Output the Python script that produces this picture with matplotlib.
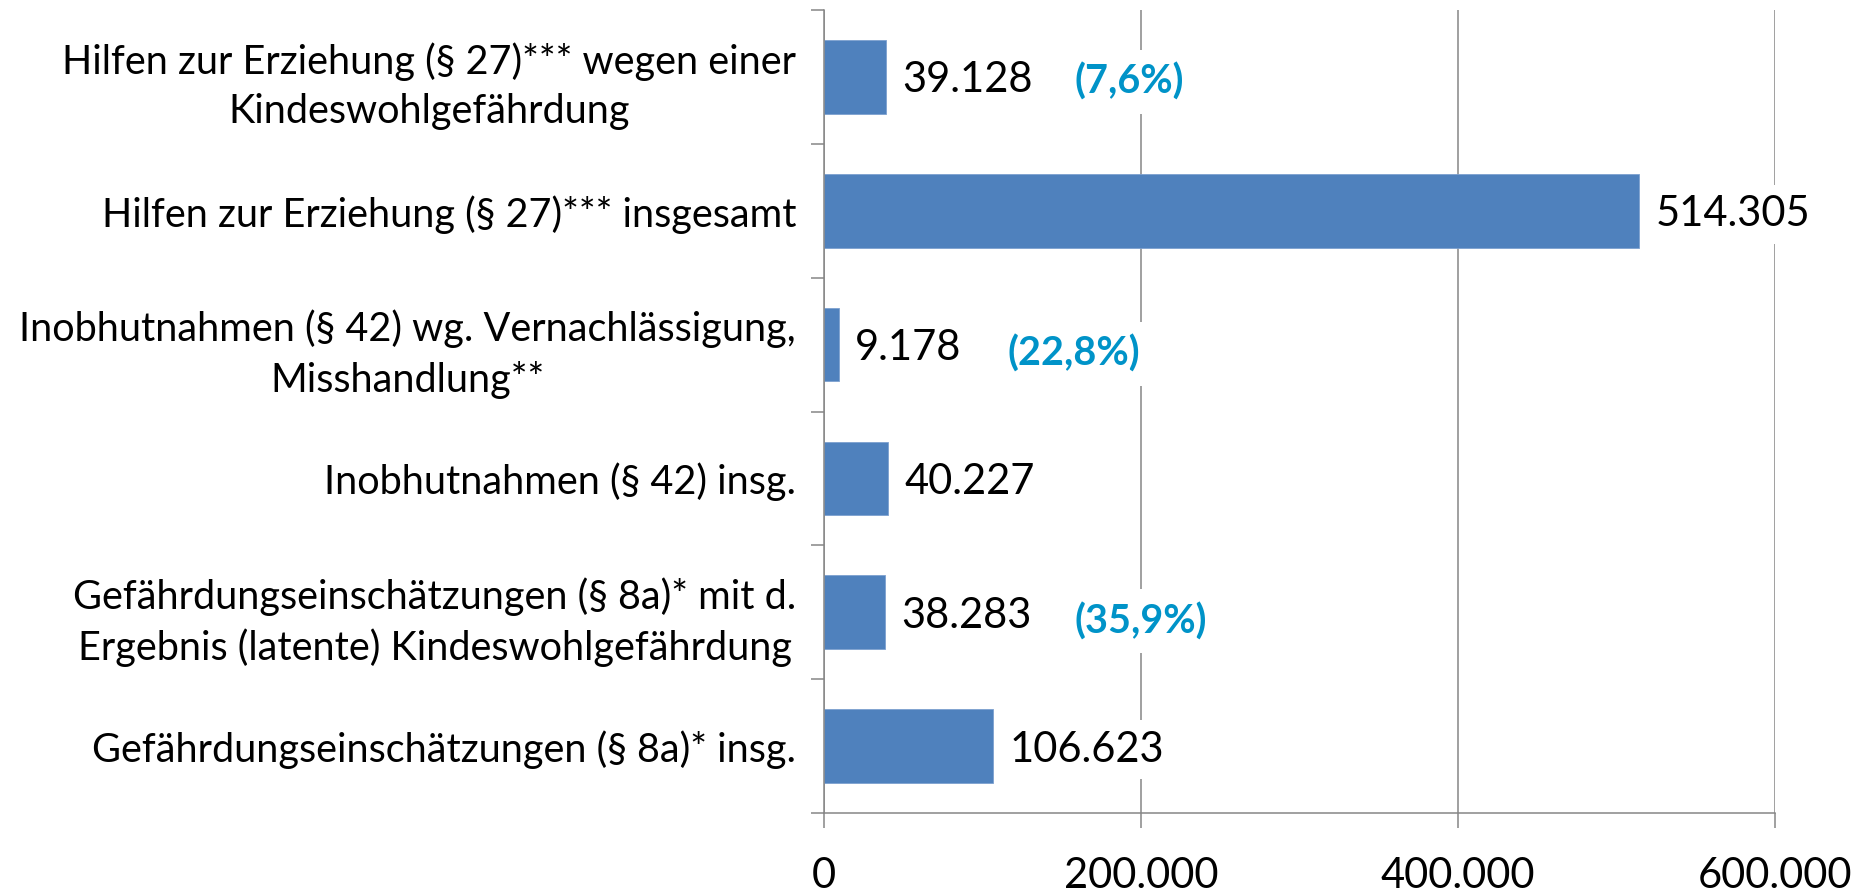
import matplotlib
matplotlib.use("Agg")
import matplotlib.pyplot as plt
from matplotlib.ticker import FixedLocator, FuncFormatter

plt.rcParams['font.family'] = ['Lato', 'DejaVu Sans']

# Daten (von oben nach unten)
kategorien = [
    "Hilfen zur Erziehung (§ 27)*** wegen einer\nKindeswohlgefährdung",
    "Hilfen zur Erziehung (§ 27)*** insgesamt",
    "Inobhutnahmen (§ 42) wg. Vernachlässigung,\nMisshandlung**",
    "Inobhutnahmen (§ 42) insg.",
    "Gefährdungseinschätzungen (§ 8a)* mit d.\nErgebnis (latente) Kindeswohlgefährdung",
    "Gefährdungseinschätzungen (§ 8a)* insg.",
]
werte = [39128, 514305, 9178, 40227, 38283, 106623]
# Teilmenge -> Gesamtwert (Index), für die Prozentangaben
anteile = {0: 1, 2: 3, 4: 5}
x_ticks = [0, 200000, 400000, 600000]

BAR_COLOR = "#4F81BD"
PCT_COLOR = "#0093C8"
GRID_COLOR = "#868686"


def de_format(v, _=None):
    return f"{int(v):,}".replace(",", ".")


def main():
    fig = plt.figure(figsize=(18.6, 8.94), dpi=100)
    ax = fig.add_axes([824 / 1860, 1 - 813 / 894, (1775 - 824) / 1860, (813 - 10) / 894])

    n = len(kategorien)
    pos = list(range(n))
    ax.barh(pos, werte, height=0.55, color=BAR_COLOR, edgecolor="#7da0cf",
            linewidth=0.6, zorder=2)
    ax.set_ylim(n - 0.5, -0.5)
    ax.set_xlim(0, 600000)

    # Achsen im Excel-Stil
    for s in ["top", "right"]:
        ax.spines[s].set_visible(False)
    for s in ["left", "bottom"]:
        ax.spines[s].set_color(GRID_COLOR)
        ax.spines[s].set_linewidth(1.1)

    ax.xaxis.set_major_locator(FixedLocator(x_ticks))
    ax.xaxis.set_major_formatter(FuncFormatter(de_format))
    ax.tick_params(axis="x", direction="out", length=10.8, width=1.1,
                   color=GRID_COLOR, labelsize=30, pad=21)
    ax.grid(axis="x", color=GRID_COLOR, linewidth=1.1)
    ax.set_axisbelow(True)

    ax.yaxis.set_major_locator(FixedLocator([p - 0.5 for p in pos] + [n - 0.5]))
    ax.yaxis.set_minor_locator(FixedLocator(pos))
    ax.yaxis.set_major_formatter(FuncFormatter(lambda v, _: ""))
    ax.set_yticks(pos, kategorien, minor=True)
    ax.tick_params(axis="y", which="major", direction="out", length=9.5,
                   width=1.1, color=GRID_COLOR)
    ax.tick_params(axis="y", which="minor", length=0, labelsize=28.5, pad=20)
    for t in ax.get_yticklabels(minor=True):
        t.set_multialignment("center")
        t.set_linespacing(1.4)

    # Wertbeschriftungen
    for i, v in enumerate(werte):
        ax.annotate(de_format(v), xy=(v, i), xytext=(12, 0),
                    textcoords="offset points", ha="left", va="center_baseline",
                    fontsize=30, color="black", zorder=4,
                    bbox=dict(boxstyle="square,pad=0.25", fc="white", ec="none"))

    # Prozentangaben (Anteil am Gesamtwert)
    pct_offsets = {0: (136, -1), 2: (122, -4), 4: (137, -4)}
    for i, j in anteile.items():
        pct = werte[i] / werte[j] * 100
        txt = "(" + f"{pct:.1f}".replace(".", ",") + "%)"
        dx, dy = pct_offsets[i]
        ax.annotate(txt, xy=(werte[i], i), xytext=(dx, dy),
                    textcoords="offset points", ha="left", va="center_baseline",
                    fontsize=28.5, fontweight="bold", color=PCT_COLOR, zorder=4,
                    bbox=dict(boxstyle="square,pad=0.33", fc="white", ec="none"))

    fig.savefig("out.png", dpi=100)


if __name__ == "__main__":
    main()
